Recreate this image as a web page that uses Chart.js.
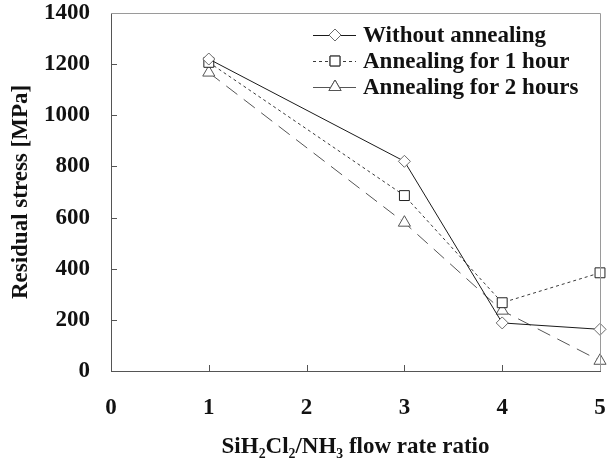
<!DOCTYPE html>
<html>
<head>
<meta charset="utf-8">
<script src="https://cdn.jsdelivr.net/npm/chart.js@4.4.1/dist/chart.umd.min.js"></script>
<style>
  html, body { margin: 0; padding: 0; background: #fff; }
  #wrap { width: 608px; height: 461px; }
</style>
</head>
<body>
<div id="wrap"><canvas id="ctx" width="608" height="461"></canvas></div>
<script>
const ratios = [1, 3, 4, 5]
const withoutAnnealing = [1220, 820, 188, 163]
const annealing1h = [1207, 686, 267, 384]
const annealing2h = [1167, 580, 236, 40]
const seriesNames = ['Without annealing', 'Annealing for 1 hour', 'Annealing for 2 hours']

const FONT = '"Liberation Serif", "Times New Roman", serif'

const toPoints = vals => ratios.map((x, i) => ({x, y: vals[i]}))

// inward tick marks, grey top/right frame and the in-plot legend
const framePlugin = {
  id: 'frameAndLegend',
  afterDraw: (chart) => {
    const {ctx} = chart
    const {left, right, top, bottom} = chart.chartArea
    const {x, y} = chart.scales

    ctx.save()
    ctx.lineWidth = 1
    ctx.strokeStyle = '#9a9a9a'
    ctx.beginPath()
    ctx.moveTo(left, top + 0.5)
    ctx.lineTo(right + 0.5, top + 0.5)
    ctx.lineTo(right + 0.5, bottom)
    ctx.stroke()

    ctx.strokeStyle = '#555'
    ctx.beginPath()
    x.ticks.forEach(t => {
      if (t.value <= x.min || t.value >= x.max) return
      const px = Math.round(x.getPixelForValue(t.value)) + 0.5
      ctx.moveTo(px, bottom)
      ctx.lineTo(px, bottom - 6)
    })
    y.ticks.forEach(t => {
      if (t.value <= y.min || t.value >= y.max) return
      const py = Math.round(y.getPixelForValue(t.value)) + 0.5
      ctx.moveTo(left, py)
      ctx.lineTo(left + 6, py)
    })
    ctx.stroke()

    // legend
    const lx = right - 287
    const rows = [top + 22, top + 48, top + 74]
    const sampleDash = [[], [3, 3], []]
    chart.data.datasets.forEach((ds, i) => {
      const ry = rows[i]
      ctx.setLineDash(sampleDash[i])
      ctx.strokeStyle = ds.borderColor
      ctx.lineWidth = 1
      ctx.beginPath()
      ctx.moveTo(lx, ry + 0.5)
      ctx.lineTo(lx + 43, ry + 0.5)
      ctx.stroke()
      ctx.setLineDash([])
      Chart.helpers.drawPoint(ctx, {
        pointStyle: ds.pointStyle,
        radius: ds.pointRadius,
        borderWidth: 1,
        rotation: 0
      }, lx + 22, ry)
      ctx.fillStyle = '#fff'
      ctx.strokeStyle = ds.pointBorderColor
      ctx.fill()
      ctx.stroke()
      ctx.fillStyle = '#111'
      ctx.font = 'bold 23px ' + FONT
      ctx.textBaseline = 'middle'
      ctx.fillText(ds.label, lx + 50, ry + 1)
    })
    ctx.restore()
  }
}

const data = {
  datasets: [{
    label: seriesNames[0],
    data: toPoints(withoutAnnealing),
    borderColor: '#1a1a1a',
    borderWidth: 1,
    pointStyle: 'rectRot',
    pointRadius: 6,
    pointBorderColor: '#6a6a6a',
    pointBackgroundColor: '#fff',
    pointBorderWidth: 1
  }, {
    label: seriesNames[1],
    data: toPoints(annealing1h),
    borderColor: '#3a3a3a',
    borderWidth: 1,
    borderDash: [3, 3],
    pointStyle: 'rect',
    pointRadius: 7,
    pointBorderColor: '#222',
    pointBackgroundColor: '#fff',
    pointBorderWidth: 1
  }, {
    label: seriesNames[2],
    data: toPoints(annealing2h),
    borderColor: '#555',
    borderWidth: 1,
    borderDash: [14, 8],
    pointStyle: 'triangle',
    pointRadius: 7,
    pointBorderColor: '#555',
    pointBackgroundColor: '#fff',
    pointBorderWidth: 1
  }]
}
data.datasets.forEach(ds => { ds.clip = false; ds.fill = false; ds.tension = 0 })

const tickFont = {family: FONT, size: 23, weight: 'bold'}

const options = {
  type: 'scatter',
  data,
  options: {
    responsive: false,
    animation: false,
    showLine: true,
    layout: {padding: {top: 13, right: 6, left: 0, bottom: 0}},
    plugins: {
      legend: {display: false},
      tooltip: {enabled: false}
    },
    scales: {
      x: {
        type: 'linear',
        min: 0,
        max: 5,
        ticks: {stepSize: 1, color: '#111', font: tickFont, padding: 23, maxRotation: 0, autoSkip: false},
        grid: {display: false, drawTicks: false},
        border: {display: true, color: '#555', width: 1},
        title: {
          display: true,
          text: 'SiH₂Cl₂/NH₃ flow rate ratio',
          color: '#111',
          font: tickFont,
          padding: {top: 0, bottom: 0}
        },
        afterFit: s => { s.height = 90; s.paddingLeft = 0; s.paddingRight = 0 }
      },
      y: {
        min: 0,
        max: 1400,
        ticks: {stepSize: 200, color: '#111', font: tickFont, padding: 21, callback: v => String(v)},
        grid: {display: false, drawTicks: false},
        border: {display: true, color: '#555', width: 1},
        title: {
          display: true,
          text: 'Residual stress [MPa]',
          color: '#111',
          font: tickFont,
          padding: {top: 7, bottom: 0}
        },
        afterFit: s => { s.width = 111; s.paddingTop = 0; s.paddingBottom = 0 }
      }
    }
  },
  plugins: [framePlugin]
}

const chart = new Chart(document.getElementById('ctx'), options)
</script>
</body>
</html>
